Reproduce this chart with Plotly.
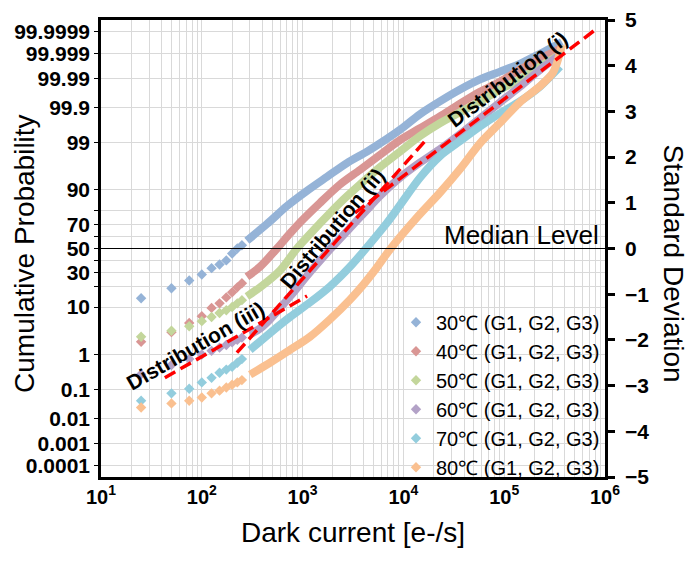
import math
from statistics import NormalDist
import plotly.graph_objects as go

FONT = "Liberation Sans, Arial, sans-serif"

# ---------------- data ----------------
series_names = ["30℃ (G1, G2, G3)", "40℃ (G1, G2, G3)", "50℃ (G1, G2, G3)",
                "60℃ (G1, G2, G3)", "70℃ (G1, G2, G3)", "80℃ (G1, G2, G3)"]
series_colors = ["#95B3D7", "#D99694", "#C3D69B", "#B3A2C7", "#93CDDD", "#FAC090"]

# sparse low-current points (dark current e-/s, standard deviation)
low_current = [25, 50, 75, 100, 125, 150, 175, 200, 225, 250]
low_sigma_30 = [-1.09, -0.87, -0.70, -0.57, -0.43, -0.35, -0.26, -0.11, 0.00, 0.07]
low_sigma_40 = [-2.04, -1.83, -1.63, -1.48, -1.30, -1.20, -1.07, -0.96, -0.85, -0.76]
low_sigma_50 = [-1.93, -1.80, -1.70, -1.59, -1.50, -1.41, -1.35, -1.28, -1.20, -1.13]
low_sigma_60 = [-2.75, -2.55, -2.42, -2.32, -2.24, -2.17, -2.11, -2.05, -2.00, -1.95]
low_sigma_70 = [-3.33, -3.17, -3.07, -2.93, -2.83, -2.72, -2.65, -2.59, -2.50, -2.42]
low_sigma_80 = [-3.48, -3.39, -3.33, -3.26, -3.17, -3.11, -3.04, -2.98, -2.93, -2.88]

# dense (continuous-looking) part of each distribution
cur_30 = [280, 445, 700, 1100, 1750, 2750, 4350, 5850, 9250, 14600, 23000, 36500,
          57500, 91000, 143000, 226000, 305000, 374000]
sig_30 = [0.17, 0.54, 0.93, 1.26, 1.57, 1.87, 2.12, 2.30, 2.60, 2.94, 3.22, 3.48,
          3.70, 3.87, 4.04, 4.26, 4.41, 4.52]
cur_40 = [280, 378, 557, 750, 942, 1490, 2350, 3710, 5860, 9250, 14600, 23000,
          36500, 57500, 91000, 143000, 226000, 358000]
sig_40 = [-0.62, -0.40, 0.00, 0.33, 0.57, 1.00, 1.40, 1.72, 2.05, 2.37, 2.63, 2.89,
          3.17, 3.43, 3.65, 3.91, 4.15, 4.37]
cur_50 = [280, 378, 597, 879, 1490, 2350, 3710, 5860, 9250, 14600, 23000, 36500,
          57500, 91000, 143000, 226000, 358000]
sig_50 = [-1.05, -0.85, -0.48, 0.00, 0.55, 1.00, 1.40, 1.78, 2.12, 2.46, 2.74, 2.98,
          3.22, 3.48, 3.70, 3.98, 4.24]
cur_60 = [301, 378, 475, 750, 1184, 1870, 2950, 4160, 5860, 9250, 14600, 23000,
          36500, 57500, 91000, 143000, 226000, 358000]
sig_60 = [-1.88, -1.75, -1.55, -1.05, -0.52, -0.02, 0.45, 0.80, 1.15, 1.55, 1.88, 2.17,
          2.50, 2.85, 3.20, 3.54, 3.91, 4.24]
cur_70 = [301, 475, 750, 1184, 1870, 2950, 4250, 6870, 9250, 14600, 23000, 36500,
          57500, 91000, 143000, 226000, 358000]
sig_70 = [-2.22, -1.85, -1.50, -1.18, -0.83, -0.40, 0.00, 0.56, 0.95, 1.55, 2.02, 2.35,
          2.67, 2.96, 3.22, 3.54, 3.98]
cur_80 = [301, 475, 750, 1184, 1870, 2950, 3970, 5225, 7360, 13650, 23000, 36500,
          57500, 91000, 143000, 226000, 305000, 374000]
sig_80 = [-2.76, -2.50, -2.22, -1.93, -1.55, -1.12, -0.80, -0.47, -0.02, 0.68, 1.22, 1.74,
          2.30, 2.75, 3.20, 3.55, 3.85, 4.45]

low_sigmas = [low_sigma_30, low_sigma_40, low_sigma_50, low_sigma_60, low_sigma_70, low_sigma_80]
cont_currents = [cur_30, cur_40, cur_50, cur_60, cur_70, cur_80]
cont_sigmas = [sig_30, sig_40, sig_50, sig_60, sig_70, sig_80]

# fitted distribution lines (dark current, standard deviation)
dist_names = ["Distribution (i)", "Distribution (ii)", "Distribution (iii)"]
dist_current = [[3310, 815000], [223, 16400], [43, 1107]]
dist_sigma = [[0.78, 4.80], [-2.28, 2.35], [-2.83, -1.04]]

# axis ticks
prob_labeled = [0.0001, 0.001, 0.01, 0.1, 1, 10, 30, 50, 70, 90,
                99, 99.9, 99.99, 99.999, 99.9999]
prob_labels = ["0.0001", "0.001", "0.01", "0.1", "1", "10", "30", "50",
               "70", "90", "99", "99.9", "99.99", "99.999", "99.9999"]
prob_unlabeled = [20, 40, 60, 80]
sigma_ticks = [-5, -4, -3, -2, -1, 0, 1, 2, 3, 4, 5]
decade_values = [10, 100, 1000, 10000, 100000, 1000000]
decade_labels = ["10<sup>1</sup>", "10<sup>2</sup>", "10<sup>3</sup>",
                 "10<sup>4</sup>", "10<sup>5</sup>", "10<sup>6</sup>"]

# ---------------- figure ----------------
nd = NormalDist()
prob_sigma = [nd.inv_cdf(p / 100.0) for p in prob_labeled]
prob_minor_sigma = [nd.inv_cdf(p / 100.0) for p in prob_unlabeled]
minor_vals = [m * 10 ** e for e in range(1, 6) for m in range(2, 10)]

fig = go.Figure()

for name, col, ls, cc, cs in zip(series_names, series_colors, low_sigmas,
                                  cont_currents, cont_sigmas):
    fig.add_trace(go.Scatter(x=cc, y=cs, mode="lines",
                             line=dict(color=col, width=8, shape="spline", smoothing=0.8),
                             showlegend=False, hoverinfo="skip"))
    fig.add_trace(go.Scatter(x=low_current, y=ls, mode="markers", name=name,
                             marker=dict(symbol="diamond", size=8, color=col)))

for dn, dc, ds in zip(dist_names, dist_current, dist_sigma):
    fig.add_trace(go.Scatter(x=dc, y=ds, mode="lines", yaxis="y2",
                             line=dict(color="#FF0000", width=3.5, dash="12px,6px"),
                             showlegend=False, name=dn))

grid_col = "#D9D9D9"
# page body adds an 8px margin, so the figure is drawn 8px smaller and offset
fig.update_layout(
    width=692, height=555,
    margin=dict(l=93, r=95, t=12, b=86, autoexpand=False),
    paper_bgcolor="white", plot_bgcolor="white",
    font=dict(family=FONT, color="black"),
    xaxis=dict(type="log", range=[1, 6], tickvals=decade_values, ticktext=decade_labels,
               tickfont=dict(size=20, weight="bold"), ticks="", automargin=False,
               showgrid=True, gridcolor=grid_col, gridwidth=1,
               minor=dict(tickvals=minor_vals, showgrid=True, gridcolor=grid_col,
                          gridwidth=1, ticks=""),
               showline=True, linecolor="black", linewidth=2.5, mirror=True,
               zeroline=False, ticklabeloverflow="allow"),
    yaxis=dict(range=[-5, 5], tickvals=prob_sigma, ticktext=prob_labels,
               tickfont=dict(size=21, weight="bold"), ticks="outside", ticklen=4,
               tickcolor="black", showgrid=True, gridcolor=grid_col, gridwidth=1,
               minor=dict(tickvals=prob_minor_sigma, showgrid=True, gridcolor=grid_col,
                          gridwidth=1, ticks="outside", ticklen=4, tickcolor="black"),
               showline=True, linecolor="black", linewidth=2.5, zeroline=False,
               automargin=False, ticklabeloverflow="allow"),
    yaxis2=dict(range=[-5, 5], overlaying="y", side="right", tickvals=sigma_ticks,
                tickfont=dict(size=21, weight="bold"), ticks="outside", ticklen=7,
                tickwidth=2.5, tickcolor="black", showgrid=False,
                showline=True, linecolor="black", linewidth=2.5, zeroline=False,
                ticklabelstandoff=6, automargin=False, ticklabeloverflow="allow"),
    legend=dict(x=1, xanchor="right", y=0.18, yanchor="middle",
                bgcolor="rgba(0,0,0,0)", font=dict(size=20, family=FONT),
                tracegroupgap=0),
    showlegend=True,
)

fig.add_shape(type="line", xref="paper", x0=0, x1=1, yref="y", y0=0, y1=0,
              line=dict(color="black", width=1))

# distribution labels
label_pos = [(5.028, 3.70, -37), (3.292, 0.43, -50), (1.942, -2.13, -30)]
for dn, (lx, ly, ang) in zip(dist_names, label_pos):
    fig.add_annotation(x=lx, y=ly, xref="x", yref="y", text="<b>%s</b>" % dn,
                       textangle=ang, showarrow=False,
                       font=dict(size=21, color="black", family=FONT))

fig.add_annotation(x=1, y=0, xref="paper", yref="y", xanchor="right", yanchor="bottom",
                   xshift=-4, yshift=-3, text="Median Level", showarrow=False,
                   font=dict(size=26, family=FONT, color="black"))
fig.add_annotation(x=-0.153, y=0.49, xref="paper", yref="paper", textangle=-90,
                   xanchor="center", yanchor="middle",
                   text="Cumulative Probability", showarrow=False,
                   font=dict(size=28, family=FONT, color="black"))
fig.add_annotation(x=1.135, y=0.467, xref="paper", yref="paper", textangle=90,
                   xanchor="center", yanchor="middle",
                   text="Standard Deviation", showarrow=False,
                   font=dict(size=28, family=FONT, color="black"))
fig.add_annotation(x=0.5, y=-0.122, xref="paper", yref="paper", yanchor="middle",
                   xanchor="center",
                   text="Dark current [e-/s]", showarrow=False,
                   font=dict(size=28, family=FONT, color="black"))

fig.write_html("out.html")
